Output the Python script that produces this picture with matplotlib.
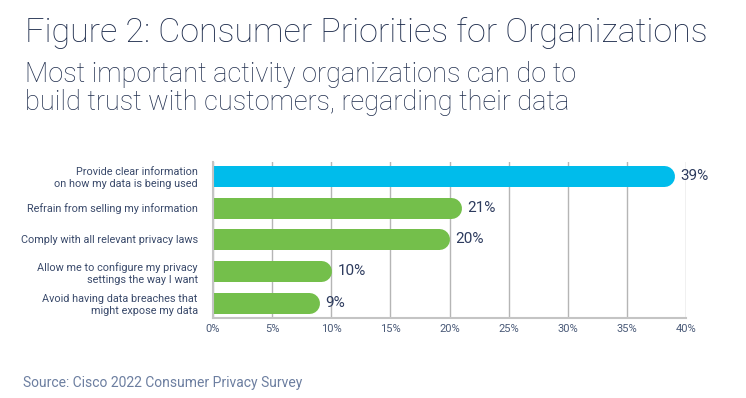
import matplotlib
matplotlib.use("Agg")
import matplotlib.pyplot as plt

categories = [
    "Provide clear information\non how my data is being used",
    "Refrain from selling my information",
    "Comply with all relevant privacy laws",
    "Allow me to configure my privacy\nsettings the way I want",
    "Avoid having data breaches that\nmight expose my data",
]
values = [39, 21, 20, 10, 9]
value_labels = ["39%", "21%", "20%", "10%", "9%"]
bar_colors = ["#00bceb", "#74bf4b", "#74bf4b", "#74bf4b", "#74bf4b"]
xticks = [0, 5, 10, 15, 20, 25, 30, 35, 40]
xtick_labels = ["0%", "5%", "10%", "15%", "20%", "25%", "30%", "35%", "40%"]

title = "Figure 2: Consumer Priorities for Organizations"
subtitle_lines = ["Most important activity organizations can do to",
                  "build trust with customers, regarding their data"]
source = "Source: Cisco 2022 Consumer Privacy Survey"

plt.rcParams['font.family'] = ['Roboto', 'DejaVu Sans']

W, H = 746, 398
dpi = 100
fig = plt.figure(figsize=(W / dpi, H / dpi), dpi=dpi)
fig.patch.set_facecolor("white")

ax_left, ax_right, ax_top, ax_bottom = 213, 686, 162, 318
ax = fig.add_axes([ax_left / W, 1 - ax_bottom / H, (ax_right - ax_left) / W, (ax_bottom - ax_top) / H])

xmax = 40
ax.set_xlim(0, xmax)
ax.set_ylim(4.47, -0.43)

bar_px = 21
px_per_unit = (ax_right - ax_left) / xmax
r = (bar_px / 2) / px_per_unit
lw_pt = bar_px * 72 / dpi

for i, (v, c) in enumerate(zip(values, bar_colors)):
    ax.plot([0, v - r], [i, i], color=c, lw=lw_pt, solid_capstyle='round', zorder=3)
    ax.text(v + 6 / px_per_unit, i, value_labels[i], va='center', ha='left',
            fontsize=11, color="#2d3b5e", zorder=4)

ax.set_xticks(xticks)
ax.set_xticklabels(xtick_labels)
ax.set_yticks(range(len(categories)))
ax.set_yticklabels(categories, fontsize=7.8, color="#3a4a6b", linespacing=1.3)
ax.tick_params(axis='y', length=0, pad=11)
ax.tick_params(axis='x', length=0, pad=4, labelsize=8, labelcolor="#4a5a78")
ax.grid(axis='x', color="#b5b5b5", lw=1, zorder=1)
ax.set_axisbelow(True)
for s in ["top", "right"]:
    ax.spines[s].set_visible(False)
for s in ["left", "bottom"]:
    ax.spines[s].set_color("#c4c4c4")
    ax.spines[s].set_linewidth(1.5)
    ax.spines[s].set_zorder(5)

fig.text(25 / W, 1 - 42 / H, title, fontsize=24.5, fontweight='light', color="#1f2d4d",
         va='baseline', ha='left')
for k, (line, base) in enumerate(zip(subtitle_lines, [82, 110])):
    fig.text(25 / W, 1 - base / H, line, fontsize=19.5, fontweight='light', color="#1f2d4d",
             va='baseline', ha='left')
fig.text(23 / W, 1 - 383 / H, source, fontsize=10, color="#6c7ea0", va='center', ha='left')

fig.savefig("out.png", dpi=dpi, facecolor="white")
